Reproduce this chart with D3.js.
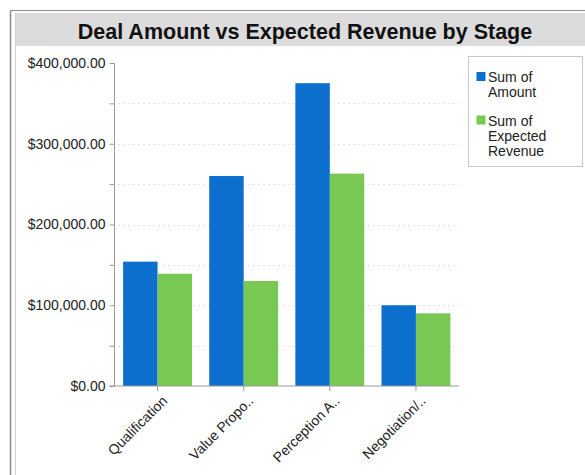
<!DOCTYPE html>
<html>
<head>
<meta charset="utf-8">
<script src="https://cdn.jsdelivr.net/npm/d3@7"></script>
<style>
  html, body { margin: 0; padding: 0; background: #fff; }
  svg { display: block; font-family: "Liberation Sans", Arial, sans-serif; }
</style>
</head>
<body>
<svg id="chart" width="585" height="475"></svg>
<script>
// Stages and summed values per stage
const stages = ["Qualification", "Value Propo..", "Perception A..", "Negotiation/.."];
const amount = [154000, 260000, 375000, 100000];
const expectedRevenue = [139000, 130000, 263000, 90000];
const seriesNames = [["Sum of", "Amount"], ["Sum of", "Expected", "Revenue"]];
const seriesColors = ["#0c6fce", "#78c853"];
const yTicks = [0, 100000, 200000, 300000, 400000];
const yGrid = [50000, 100000, 150000, 200000, 250000, 300000, 350000];

const svg = d3.select("#chart");

// Outer frame
svg.append("line").attr("x1", 10.5).attr("x2", 585).attr("y1", 10.5).attr("y2", 10.5)
  .attr("stroke", "#8a8a8a").attr("stroke-width", 1);
svg.append("line").attr("x1", 10.5).attr("x2", 10.5).attr("y1", 10.5).attr("y2", 475)
  .attr("stroke", "#8a8a8a").attr("stroke-width", 1.5);
svg.append("line").attr("x1", 15.5).attr("x2", 15.5).attr("y1", 13).attr("y2", 475)
  .attr("stroke", "#d0d0d0").attr("stroke-width", 1);

// Title band
svg.append("rect").attr("x", 16).attr("y", 13).attr("width", 569).attr("height", 33)
  .attr("fill", "#dcdcdc");
svg.append("text").attr("x", 305).attr("y", 39).attr("text-anchor", "middle")
  .attr("font-size", 21.5).attr("font-weight", "bold").attr("fill", "#111")
  .text("Deal Amount vs Expected Revenue by Stage");

const plot = { left: 114.5, right: 459, top: 63, bottom: 386 };

const x = d3.scaleBand().domain(stages).range([plot.left, plot.right])
  .paddingInner(0.2).paddingOuter(0.1);
const xSub = d3.scaleBand().domain([0, 1]).range([0, x.bandwidth()]);
const y = d3.scaleLinear().domain([0, 400000]).range([plot.bottom, plot.top]);

// Dotted gridlines
svg.append("g").selectAll("line").data(yGrid).join("line")
  .attr("x1", plot.left + 4).attr("x2", plot.right)
  .attr("y1", d => Math.round(y(d)) + 0.5).attr("y2", d => Math.round(y(d)) + 0.5)
  .attr("stroke", "#c8c8c8").attr("stroke-dasharray", "1,4");

// Bars
const series = [amount, expectedRevenue];
series.forEach((vals, si) => {
  svg.append("g").selectAll("rect").data(stages).join("rect")
    .attr("x", d => x(d) + xSub(si))
    .attr("y", (d, i) => y(vals[i]))
    .attr("width", xSub.bandwidth())
    .attr("height", (d, i) => plot.bottom - y(vals[i]))
    .attr("fill", seriesColors[si]);
});

// Y axis
const yAxis = d3.axisLeft(y).tickValues(d3.range(0, 400001, 50000)).tickSize(5)
  .tickFormat(d => yTicks.includes(d) ? "$" + d3.format(",.2f")(d) : "");
const gy = svg.append("g").attr("transform", `translate(${plot.left},0)`).call(yAxis);
gy.select(".domain").attr("stroke", "#9a9a9a").attr("d", `M0,${plot.top}V${plot.bottom}`);
gy.selectAll(".tick line").attr("stroke", "#9a9a9a");
gy.selectAll(".tick text").attr("font-size", 14).attr("fill", "#222").attr("x", -9)
  .attr("font-family", "Liberation Sans, Arial, sans-serif");

// X axis
const xAxis = d3.axisBottom(x).tickSize(5).tickSizeOuter(0);
const gx = svg.append("g").attr("transform", `translate(0,${plot.bottom})`).call(xAxis);
gx.select(".domain").attr("stroke", "#9a9a9a").attr("d", `M${plot.left - 5},0H${plot.right}`);
gx.selectAll(".tick line").attr("stroke", "#9a9a9a");
gx.selectAll(".tick text")
  .attr("font-size", 14).attr("fill", "#222")
  .attr("font-family", "Liberation Sans, Arial, sans-serif")
  .attr("text-anchor", "end")
  .attr("dy", 0)
  .attr("transform", "translate(5,10) rotate(-45)");

// Legend
const lg = svg.append("g");
lg.append("rect").attr("x", 468.5).attr("y", 56.5).attr("width", 114).attr("height", 110)
  .attr("fill", "#fff").attr("stroke", "#c8c8c8");
const rowStart = [72, 115.5];
seriesNames.forEach((lines, si) => {
  lg.append("rect").attr("x", 476.5).attr("y", rowStart[si]).attr("width", 9).attr("height", 9)
    .attr("fill", seriesColors[si]);
  lines.forEach((t, li) => {
    lg.append("text").attr("x", 488).attr("y", rowStart[si] + 10 + li * 15)
      .attr("font-size", 14).attr("fill", "#222").text(t);
  });
});
</script>
</body>
</html>
